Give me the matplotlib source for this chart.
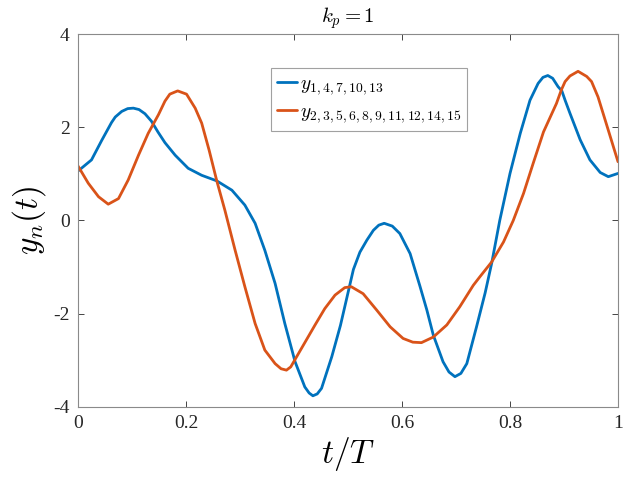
import matplotlib
matplotlib.use("Agg")
import matplotlib.pyplot as plt

plt.rcParams['mathtext.fontset'] = 'cm'

t_blue = [0, 0.025, 0.044, 0.062, 0.069, 0.081, 0.092, 0.1025, 0.113, 0.124, 0.136,
          0.148, 0.161, 0.180, 0.204,
          0.229, 0.257, 0.285, 0.309, 0.328, 0.346, 0.365, 0.383, 0.402, 0.420,
          0.428, 0.435, 0.443, 0.451, 0.470, 0.486, 0.498, 0.510, 0.522, 0.535,
          0.547, 0.557, 0.567, 0.582,
          0.596, 0.615, 0.633, 0.646, 0.658, 0.676, 0.687, 0.698, 0.709, 0.720,
          0.738, 0.754,
          0.766, 0.781, 0.800, 0.819, 0.837, 0.852, 0.861, 0.870, 0.879, 0.889,
          0.896, 0.902,
          0.911, 0.930, 0.948, 0.967, 0.982, 1.0]
y_blue = [1.06, 1.30, 1.72, 2.10, 2.22, 2.34, 2.40, 2.41, 2.38, 2.29, 2.13,
          1.90, 1.67, 1.40, 1.12,
          0.97, 0.85, 0.65, 0.33, -0.06, -0.64, -1.35, -2.21, -3.03, -3.57,
          -3.70, -3.76, -3.72, -3.60, -2.92, -2.25, -1.65, -1.05, -0.68, -0.42,
          -0.21, -0.10, -0.06, -0.12,
          -0.28, -0.71, -1.40, -1.92, -2.46, -3.03, -3.25, -3.35, -3.28, -3.07,
          -2.28, -1.55,
          -0.92, 0.0, 1.01, 1.87, 2.58, 2.94, 3.07, 3.11, 3.05, 2.87,
          2.78, 2.58,
          2.30, 1.73, 1.30, 1.03, 0.94, 1.01]

t_orange = [0, 0.019, 0.038, 0.056, 0.075, 0.093, 0.112, 0.130, 0.149, 0.161, 0.170,
            0.1846, 0.201, 0.217, 0.229, 0.243, 0.257, 0.272, 0.291, 0.309, 0.328,
            0.346, 0.365, 0.376, 0.386, 0.394, 0.402, 0.420, 0.439, 0.457, 0.476,
            0.494, 0.506,
            0.528, 0.553, 0.578, 0.602, 0.620, 0.636, 0.658, 0.683, 0.707, 0.732,
            0.744,
            0.766, 0.788, 0.806, 0.825, 0.843, 0.862, 0.886, 0.895, 0.902, 0.911,
            0.926, 0.942, 0.951, 0.963, 0.979, 1.0]
y_orange = [1.17, 0.80, 0.51, 0.35, 0.47, 0.87, 1.40, 1.87, 2.27, 2.56, 2.71,
            2.78, 2.71, 2.41, 2.09, 1.50, 0.85, 0.22, -0.64, -1.42, -2.21,
            -2.78, -3.07, -3.18, -3.21, -3.14, -2.98, -2.62, -2.24, -1.89, -1.60,
            -1.44, -1.42,
            -1.57, -1.92, -2.28, -2.53, -2.61, -2.62, -2.50, -2.24, -1.85, -1.39,
            -1.21,
            -0.89, -0.46, 0.0, 0.58, 1.23, 1.90, 2.51, 2.80, 2.98, 3.10,
            3.20, 3.09, 2.98, 2.65, 2.05, 1.26]

label_blue = r'$y_{1,4,7,10,13}$'
label_orange = r'$y_{2,3,5,6,8,9,11,12,14,15}$'

xticks = [0, 0.2, 0.4, 0.6, 0.8, 1]
xticklabels = ['0', '0.2', '0.4', '0.6', '0.8', '1']
yticks = [-4, -2, 0, 2, 4]
yticklabels = ['-4', '-2', '0', '2', '4']

fig = plt.figure(figsize=(6.23, 4.86), dpi=100)
ax = fig.add_axes([0.1252, 0.1626, 0.8668, 0.7674])

ax.plot(t_blue, y_blue, color='#0072BD', lw=2.0, label=label_blue,
        solid_joinstyle='round', solid_capstyle='round')
ax.plot(t_orange, y_orange, color='#D95319', lw=2.0, label=label_orange,
        solid_joinstyle='round', solid_capstyle='round')

ax.set_xlim(0, 1)
ax.set_ylim(-4, 4)
ax.set_xticks(xticks)
ax.set_xticklabels(xticklabels, fontfamily='Liberation Serif', fontsize=14)
ax.set_yticks(yticks)
ax.set_yticklabels(yticklabels, fontfamily='Liberation Serif', fontsize=14)
ax.tick_params(direction='in', top=True, right=True, length=4, width=0.6,
               colors='#262626', pad=6)
for s in ax.spines.values():
    s.set_color('#8a8a8a')
    s.set_linewidth(0.8)

ax.set_title(r'$k_p = 1$', fontsize=15, pad=8)
ax.set_xlabel(r'$t/T$', fontsize=24, labelpad=2)
ax.set_ylabel(r'$y_n(t)$', fontsize=24, labelpad=4)

leg = ax.legend(loc='upper left', bbox_to_anchor=(0.358, 0.908), fontsize=14,
                frameon=True, fancybox=False, handlelength=1.0, handletextpad=0.15,
                borderpad=0.3, labelspacing=0.25, borderaxespad=0)
leg.get_frame().set_edgecolor('#8a8a8a')
leg.get_frame().set_linewidth(0.8)

fig.savefig('out.png', dpi=100)
